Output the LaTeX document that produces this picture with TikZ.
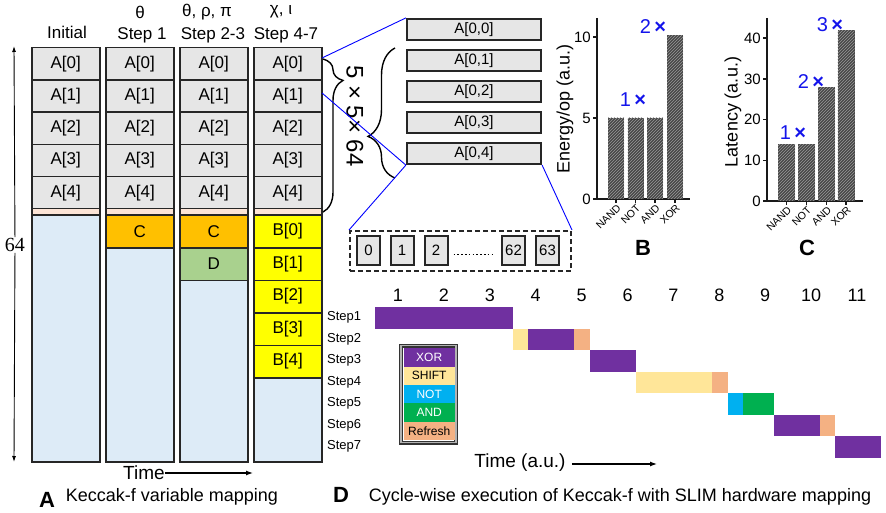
\documentclass[tikz,border=0pt]{standalone}
\usepackage{fontspec}
\setmainfont{Liberation Sans}
\newfontfamily\serifnum{Liberation Serif}
\usetikzlibrary{decorations.pathreplacing,patterns,calc,arrows.meta}
\definecolor{cellgray}{RGB}{230,230,230}
\definecolor{lblue}{RGB}{221,235,247}
\definecolor{peach}{RGB}{252,228,214}
\definecolor{corange}{RGB}{255,192,0}
\definecolor{dgreen}{RGB}{169,209,142}
\definecolor{byellow}{RGB}{255,255,0}
\definecolor{xorpurple}{RGB}{112,48,160}
\definecolor{shiftc}{RGB}{255,230,153}
\definecolor{refreshc}{RGB}{244,177,131}
\definecolor{notc}{RGB}{0,176,240}
\definecolor{andc}{RGB}{0,176,80}
\definecolor{multblue}{RGB}{20,20,235}
\newcommand{\myfs}[1]{\fontsize{#1}{#1}\selectfont}
\newcommand{\ganttbar}[4]{\fill[#4] ({375+46*#1},{307+21.5*(#3-1)}) rectangle ({375+46*#2},{307+21.5*#3});}
\begin{document}
\begin{tikzpicture}[x=1pt,y=-1pt,
  cell/.style={draw=black!85, line width=1.5pt, minimum width=68pt, inner sep=0pt, font=\myfs{17}, anchor=north west},
  hdr/.style={font=\myfs{17}, inner sep=0pt},
  zbox/.style={draw=black!85, line width=2.2pt, fill=cellgray, minimum width=134pt, minimum height=21pt, inner sep=0pt, font=\myfs{15}},
  bitbox/.style={draw=black!85, line width=2pt, fill=cellgray, minimum width=23pt, minimum height=29pt, inner sep=0pt, font=\myfs{15}},
  blueline/.style={draw=blue, line width=0.9pt},
  bracestyle/.style={line width=1.4pt, decorate},
  barstyle/.style={fill=black!72, postaction={pattern=north east lines, pattern color=black!40}},
  axis/.style={line width=1.5pt, black!90},
  ticklab/.style={font=\myfs{15}, anchor=east, inner sep=1pt},
  catlab/.style={font=\myfs{10.5}, rotate=45, anchor=east, inner sep=0pt},
  mult/.style={font=\myfs{20}, text=multblue, inner sep=0pt},
  panel/.style={font=\bfseries\myfs{22}, inner sep=0pt},
  legcell/.style={minimum width=51pt, minimum height=18.4pt, inner sep=0pt, font=\myfs{12}, anchor=north west},
  arr/.style={-{Latex[length=7pt,width=5pt]}, line width=1.2pt}
]
\fill[white] (0,0) rectangle (886,513);
\useasboundingbox (0,0) rectangle (886,513);

% ---------- Panel A ----------
\node[hdr] (hInit) at (67,32) {Initial};
\node[hdr] (hT1) at (140,12) {θ};
\node[hdr] (hS1) at (142,35) {Step 1};
\node[hdr] (hT2) at (207,12) {θ, ρ, π};
\node[hdr] (hS2) at (213,35) {Step 2-3};
\node[hdr] (hT3) at (281,12) {χ, ι};
\node[hdr] (hS3) at (286,35) {Step 4-7};

\foreach \L [count=\i] in {31,105,179,253} {
  \foreach \r in {0,...,4} {
    \node[cell, fill=cellgray, minimum height=32.2pt] (a\i\r) at (\L,{47+32.2*\r}) {A[\r]};
  }
  \node[cell, fill=peach, minimum height=6.5pt] (s\i) at (\L,208) {};
}
\node[cell, fill=lblue, minimum height=246.5pt] (bot1) at (31,214.5) {};
\node[cell, fill=corange, minimum height=32.5pt] (c2) at (105,214.5) {C};
\node[cell, fill=lblue, minimum height=214pt] (bot2) at (105,247) {};
\node[cell, fill=corange, minimum height=32.5pt] (c3) at (179,214.5) {C};
\node[cell, fill=dgreen, minimum height=32.5pt] (d3) at (179,247) {D};
\node[cell, fill=lblue, minimum height=181.5pt] (bot3) at (179,279.5) {};
\foreach \r in {0,...,4} {
  \node[cell, fill=byellow, minimum height=32.5pt] (b\r) at (253,{214.5+32.5*\r}) {B[\r]};
}
\node[cell, fill=lblue, minimum height=84pt] (bot4) at (253,377) {};

% vertical 64 arrow
\node[font=\serifnum\myfs{20}, fill=white, inner sep=1pt] (n64) at (15,245) {64};
\coordinate (vtop) at (14,46);
\coordinate (vbot) at (14,462);
\draw[-{Latex[length=6pt,width=4pt]}, line width=0.9pt] (n64) -- (vtop);
\draw[-{Latex[length=6pt,width=4pt]}, line width=0.9pt] (n64) -- (vbot);

% time arrow A
\node[font=\myfs{19}, inner sep=0pt] (timeA) at (144,473) {Time};
\coordinate (timeAend) at (253,473);
\draw[arr] (timeA.east) -- (timeAend);

\node[panel] (pA) at (47,500) {A};
\node[font=\myfs{18}, inner sep=0pt] (capA) at (172,497) {Keccak-f variable mapping};

% braces and zoom
\draw[bracestyle, decoration={brace, amplitude=20pt, aspect=0.14}] (323,59) -- (323,212);
\node[font=\myfs{24}, rotate=-90, inner sep=0pt] (dims) at (355,116) {5 × 5× 64};
\draw[bracestyle, decoration={brace, amplitude=27pt, aspect=0.32}] (395,178) -- (395,48);

\foreach \k in {0,...,4} {
  \node[zbox] (z\k) at (474,{29.5+31*\k}) {A[0,\k]};
}
\coordinate (p1) at (322,58);
\coordinate (p2) at (322,93);
\draw[blueline] (p1) -- (z0.north west);
\draw[blueline] (p2) -- (z4.south west);

\node[draw=black!85, dashed, dash pattern=on 5pt off 3pt, line width=2pt, minimum width=221pt, minimum height=40pt, anchor=north west, inner sep=0pt] (bits) at (349,230) {};
\draw[blueline] (z4.south west) -- (bits.north west);
\draw[blueline] (z4.south east) -- (bits.north east);
\node[bitbox] (bit0) at (368.5,250.5) {0};
\node[bitbox] (bit1) at (402,250.5) {1};
\node[bitbox] (bit2) at (436,250.5) {2};
\node[bitbox] (bit62) at (513.5,250.5) {62};
\node[bitbox] (bit63) at (547.5,250.5) {63};
\draw[line width=1.6pt, dash pattern=on 1.6pt off 2.2pt] ($(bit2.east)+(5,4)$) -- ($(bit62.west)+(-9,4)$);

% ---------- Panel B ----------
\draw[axis] (597,18) -- (597,199) -- (690,199);
\foreach \v/\lab in {0/0,5/5,10/10} {
  \draw[axis] (597,{199-16.2*\v}) -- (593,{199-16.2*\v});
  \node[ticklab] (bt\v) at (592,{199-16.2*\v}) {\lab};
}
\foreach \xc/\h/\nm in {616/5/NAND,635.5/5/NOT,655/5/AND,675/10.1/XOR} {
  \fill[barstyle] ({\xc-8},199) rectangle ({\xc+8},{199-16.2*\h});
  \draw[axis] (\xc,199) -- (\xc,203);
  \node[catlab] (bc\nm) at ({\xc+3},206) {\nm};
}
\node[font=\myfs{18}, rotate=90, inner sep=0pt] (ylabB) at (565,109) {Energy/op (a.u.)};
\node[mult] (mB1) at (633,100) {1\,\textbf{×}};
\node[mult] (mB2) at (653,27) {2\,\textbf{×}};
\node[panel] (pB) at (643,248) {B};

% ---------- Panel C ----------
\draw[axis] (767,18) -- (767,201) -- (863,201);
\foreach \v in {0,10,20,30,40} {
  \draw[axis] (767,{201-4.07*\v}) -- (763,{201-4.07*\v});
  \node[ticklab] (ct\v) at (762,{201-4.07*\v}) {\v};
}
\foreach \xc/\h/\nm in {786.5/14/NAND,806.5/14/NOT,826.5/28/AND,846/42/XOR} {
  \fill[barstyle] ({\xc-8.5},201) rectangle ({\xc+8.5},{201-4.07*\h});
  \draw[axis] (\xc,201) -- (\xc,205);
  \node[catlab] (cc\nm) at ({\xc+3},208) {\nm};
}
\node[font=\myfs{18}, rotate=90, inner sep=0pt] (ylabC) at (733,112) {Latency (a.u.)};
\node[mult] (mC1) at (793,133) {1\,\textbf{×}};
\node[mult] (mC2) at (811,82) {2\,\textbf{×}};
\node[mult] (mC3) at (830,25) {3\,\textbf{×}};
\node[panel] (pC) at (807,248) {C};

% ---------- Panel D ----------
\foreach \n in {1,...,11} {
  \node[font=\myfs{18}, inner sep=0pt] (tn\n) at ({398+45.9*(\n-1)},295) {\n};
}
\foreach \k in {1,...,7} {
  \node[font=\myfs{13}, anchor=west, inner sep=0pt] (st\k) at (327,{317.75+21.5*(\k-1)}) {Step\k};
}
\ganttbar{0}{3}{1}{xorpurple}
\ganttbar{3}{3.333}{2}{shiftc}
\ganttbar{3.333}{4.333}{2}{xorpurple}
\ganttbar{4.333}{4.667}{2}{refreshc}
\ganttbar{4.667}{5.667}{3}{xorpurple}
\ganttbar{5.667}{7.333}{4}{shiftc}
\ganttbar{7.333}{7.667}{4}{refreshc}
\ganttbar{7.667}{8}{5}{notc}
\ganttbar{8}{8.667}{5}{andc}
\ganttbar{8.667}{9.667}{6}{xorpurple}
\ganttbar{9.667}{10}{6}{refreshc}
\ganttbar{10}{11}{7}{xorpurple}

% legend
\draw[draw=black!80, line width=1.2pt, double=black!30, double distance=1.6pt] (401,345.5) rectangle (456,442.5);
\node[legcell, fill=xorpurple, text=white] (lx) at (403.5,348) {XOR};
\node[legcell, fill=shiftc] (ls) at (403.5,366.4) {SHIFT};
\node[legcell, fill=notc, text=white] (ln) at (403.5,384.8) {NOT};
\node[legcell, fill=andc, text=white] (la) at (403.5,403.2) {AND};
\node[legcell, fill=refreshc] (lr) at (403.5,421.6) {Refresh};

\node[font=\myfs{19}, inner sep=0pt] (timeD) at (520,463) {Time (a.u.)};
\coordinate (timeDend) at (657,464);
\draw[arr] ($(timeD.east)+(6,1)$) -- (timeDend);

\node[panel] (pD) at (341,495) {D};
\node[font=\myfs{18}, inner sep=0pt] (capD) at (620,497) {Cycle-wise execution of Keccak-f with SLIM hardware mapping};
\end{tikzpicture}
\end{document}
